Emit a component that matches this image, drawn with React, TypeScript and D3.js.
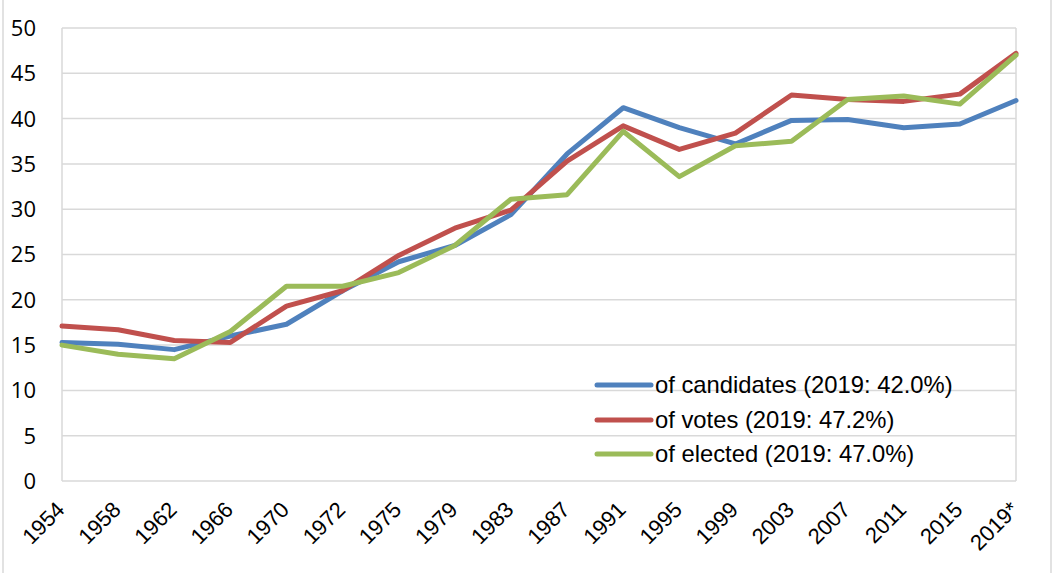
import React from "react";
import * as d3 from "d3";

const categories = ["1954","1958","1962","1966","1970","1972","1975","1979","1983","1987","1991","1995","1999","2003","2007","2011","2015","2019*"];
const candidates = [15.3,15.1,14.5,16.0,17.3,21.0,24.2,26.0,29.4,36.1,41.2,39.0,37.2,39.8,39.9,39.0,39.4,42.0];
const votes = [17.1,16.7,15.5,15.3,19.3,21.0,24.9,27.9,29.9,35.3,39.2,36.6,38.4,42.6,42.1,41.9,42.7,47.2];
const elected = [15.0,14.0,13.5,16.5,21.5,21.5,23.0,26.0,31.1,31.6,38.6,33.6,37.0,37.5,42.1,42.5,41.6,47.0];
const yTicks = [0,5,10,15,20,25,30,35,40,45,50];
const seriesNames = ["of candidates (2019: 42.0%)","of votes (2019: 47.2%)","of elected (2019: 47.0%)"];

const W = 1053, H = 573;
const left = 62, right = 1016, top = 28, bottom = 481;
const colors = ["#4F81BD", "#C0504D", "#9BBB59"];

export default function App() {
  const x = d3.scalePoint<string>().domain(categories).range([left, right]);
  const y = d3.scaleLinear().domain([0, 50]).range([bottom, top]);
  const line = d3.line<number>().x((_, i) => x(categories[i]) as number).y(d => y(d));
  const series = [candidates, votes, elected];
  const legendX = 597, legendY = [385, 420, 454];
  return (
    <svg width={W} height={H} style={{ position: "absolute", left: 0, top: 0, background: "#fff" }}>
      <line x1={3} x2={3} y1={0} y2={H} stroke="#d9d9d9" strokeWidth={1.5} />
      <line x1={1051} x2={1051} y1={0} y2={H} stroke="#d9d9d9" strokeWidth={1.5} />
      {yTicks.map(t => (
        <g key={t}>
          <line x1={left} x2={right} y1={y(t)} y2={y(t)} stroke="#d9d9d9" strokeWidth={1.5} />
          <text x={36} y={y(t)} dy="0.36em" textAnchor="end" fontFamily="'Open Sans', sans-serif" fontSize={22} fill="#000">{t}</text>
        </g>
      ))}
      <line x1={left} x2={left} y1={top} y2={bottom} stroke="#d9d9d9" strokeWidth={1.5} />
      <line x1={right} x2={right} y1={top} y2={bottom} stroke="#d9d9d9" strokeWidth={1.5} />
      {categories.map(c => {
        const cx = (x(c) as number) + 4;
        const cy = 511;
        return (
          <text key={c} x={cx} y={cy} transform={`rotate(-45 ${cx} ${cy})`} textAnchor="end" fontFamily="'Liberation Sans', Arial, sans-serif" fontSize={22} fill="#000">{c}</text>
        );
      })}
      {series.map((s, i) => (
        <path key={i} d={line(s) || ""} fill="none" stroke={colors[i]} strokeWidth={5} strokeLinejoin="round" strokeLinecap="round" />
      ))}
      {seriesNames.map((n, i) => (
        <g key={n}>
          <line x1={legendX} x2={legendX + 54} y1={legendY[i]} y2={legendY[i]} stroke={colors[i]} strokeWidth={5} strokeLinecap="round" />
          <text x={655} y={legendY[i] + 8} fontFamily="'Liberation Sans', Arial, sans-serif" fontSize={23.8} fill="#000">{n}</text>
        </g>
      ))}
    </svg>
  );
}
